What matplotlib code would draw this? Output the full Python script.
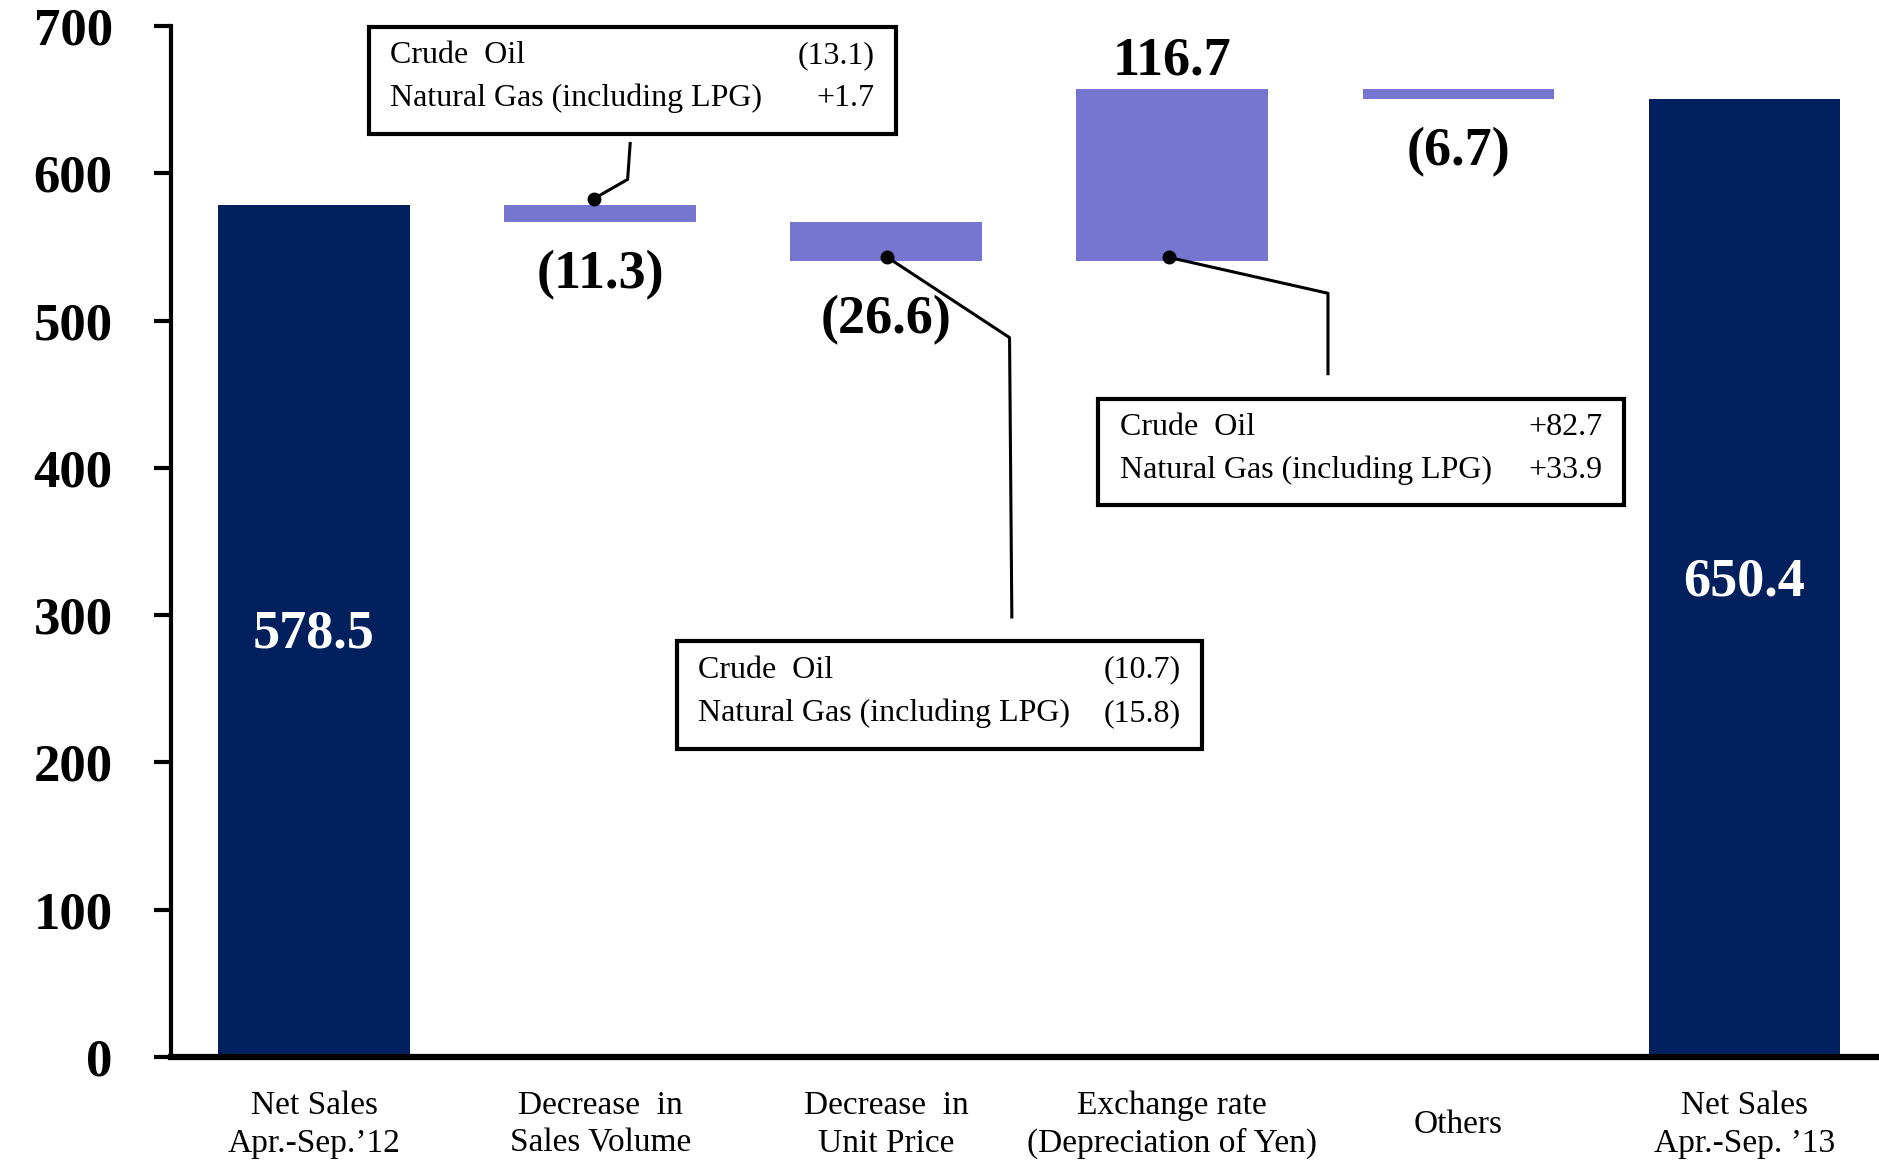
import matplotlib
matplotlib.use("Agg")
import matplotlib.pyplot as plt
from matplotlib.patches import Rectangle

plt.rcParams["font.family"] = ["Liberation Serif", "DejaVu Serif"]

# data
categories = ["Net Sales\nApr.-Sep.\u201912", "Decrease  in\nSales Volume", "Decrease  in\nUnit Price",
              "Exchange rate\n(Depreciation of Yen)", "Others", "Net Sales\nApr.-Sep. \u201913"]
start_value = 578.5
changes = [-11.3, -26.6, 116.7, -6.7]
end_value = 650.4
change_labels = ["(11.3)", "(26.6)", "116.7", "(6.7)"]

breakdown_names = ["Crude  Oil", "Natural Gas (including LPG)"]
volume_breakdown = ["(13.1)", "+1.7"]
price_breakdown = ["(10.7)", "(15.8)"]
fx_breakdown = ["+82.7", "+33.9"]

NAVY = "#03205E"
PURPLE = "#7675D0"

fig = plt.figure(figsize=(18.79, 11.64), dpi=100)
ax = fig.add_axes([0.091, 0.092, 0.909, 0.8857])

W = 0.67
# totals
ax.bar(0, start_value, W, color=NAVY)
ax.bar(5, end_value, W, color=NAVY)
ax.text(0, 287, f"{start_value:.1f}", color="white", fontsize=39, fontweight="bold",
        ha="center", va="center")
ax.text(5, 322, f"{end_value:.1f}", color="white", fontsize=39, fontweight="bold",
        ha="center", va="center")

# floating change bars
level = start_value
label_y = [531, 500, 676, 614]
for i, (d, lab, ly) in enumerate(zip(changes, change_labels, label_y)):
    x = i + 1
    bottom = level + d if d < 0 else level
    ax.bar(x, abs(d), W, bottom=bottom, color=PURPLE)
    ax.text(x, ly, lab, fontsize=39, fontweight="bold", ha="center", va="center")
    level += d

# breakdown boxes: (x0, x1, y0, y1), rows, connector path
boxes = [
    ((0.192, 2.033, 626.7, 699.2), volume_breakdown, [(0.979, 582.8), (1.096, 595.8), (1.105, 620.2)]),
    ((1.268, 3.105, 209.2, 282.4), price_breakdown, [(2.004, 542.9), (2.431, 488.4), (2.439, 298.7)]),
    ((2.741, 4.577, 374.4, 446.9), fx_breakdown, [(2.987, 542.9), (3.544, 518.5), (3.544, 463.9)]),
]
for (x0, x1, y0, y1), vals, path in boxes:
    ax.add_patch(Rectangle((x0, y0), x1 - x0, y1 - y0, fill=False, lw=3,
                           edgecolor="black", clip_on=False, zorder=5))
    h = y1 - y0
    rows_y = [y1 - 0.27 * h, y1 - 0.67 * h]
    for name, val, ry in zip(breakdown_names, vals, rows_y):
        ax.text(x0 + 0.075, ry, name, fontsize=23, ha="left", va="center", zorder=6)
        ax.text(x1 - 0.075, ry, val, fontsize=23, ha="right", va="center", zorder=6)
    xs = [p[0] for p in path]
    ys = [p[1] for p in path]
    ax.plot(xs, ys, color="black", lw=2.2, zorder=6, clip_on=False)
    ax.plot(xs[0], ys[0], "o", color="black", ms=9, zorder=7)

ax.set_xlim(-0.5, 5.47)
ax.set_ylim(0, 700)
ax.set_yticks(range(0, 701, 100))
ax.tick_params(axis="y", direction="out", length=12, width=3, pad=30, labelsize=38)
for t in ax.get_yticklabels():
    t.set_fontweight("bold")
ax.set_xticks(range(len(categories)))
ax.set_xticklabels(categories, fontsize=24, linespacing=1.3)
ax.tick_params(axis="x", length=0, pad=49)
for t in ax.get_xticklabels():
    t.set_va("center")

ax.spines["top"].set_visible(False)
ax.spines["right"].set_visible(False)
ax.spines["left"].set_linewidth(3)
ax.spines["bottom"].set_linewidth(4.5)
ax.spines["bottom"].set_zorder(8)

fig.savefig("out.png", dpi=100)
